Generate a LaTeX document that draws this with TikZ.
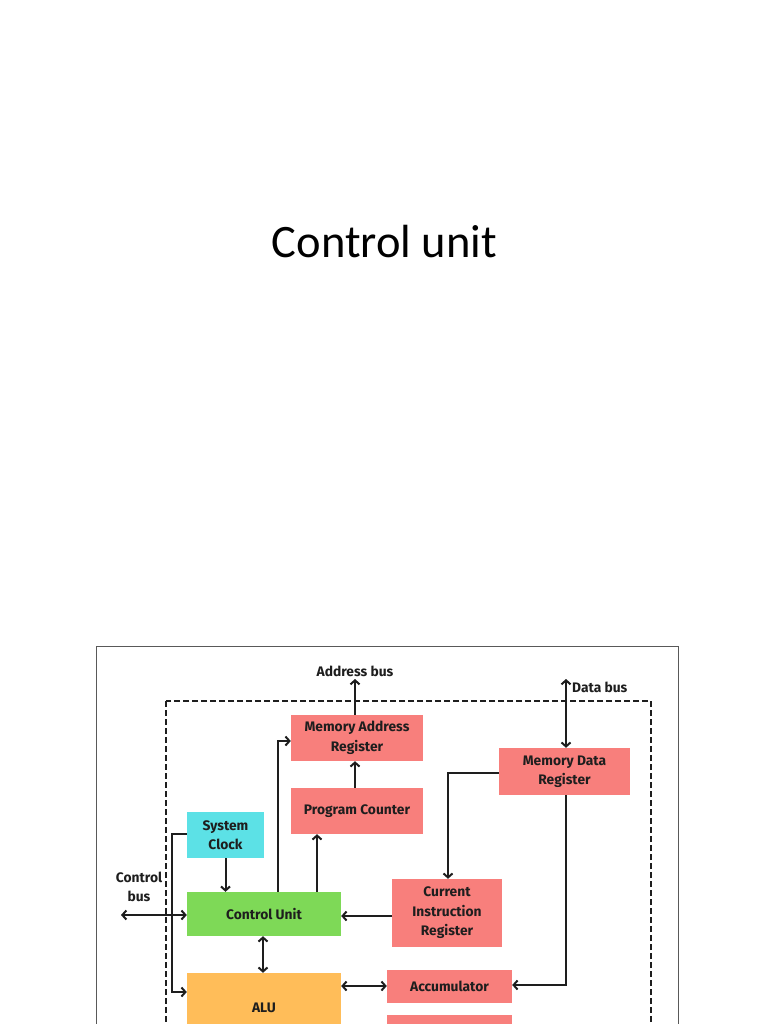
\documentclass[tikz,border=0pt]{standalone}
\usepackage{fontspec}
\setmainfont{Carlito}
\newfontfamily\lab{Fira Sans}
\usetikzlibrary{arrows.meta}
\definecolor{reg}{HTML}{F87F7C}
\definecolor{cugreen}{HTML}{7ED957}
\definecolor{clk}{HTML}{5CE1E6}
\definecolor{alu}{HTML}{FFBD59}
\definecolor{ink}{HTML}{1E1E1E}
\tikzset{
  box/.style={draw=none, inner sep=0pt, align=center, text=ink,
    font=\lab\bfseries\fontsize{13.8}{19.5}\selectfont},
  lbl/.style={inner sep=0pt, text=ink, align=center,
    font=\lab\bfseries\fontsize{13.8}{19}\selectfont},
  wire/.style={line width=2pt, draw=ink},
  tip/.style={},
  arr/.style={wire, -{Straight Barb[length=4pt,width=9pt,line width=2pt]}},
  darr/.style={wire, {Straight Barb[length=4pt,width=9pt,line width=2pt]}-{Straight Barb[length=4pt,width=9pt,line width=2pt]}}
}
\begin{document}
\begin{tikzpicture}[x=1pt,y=-1pt]
\useasboundingbox (0,0) rectangle (768,1024);
\clip (0,0) rectangle (768,1024);
\fill[white] (0,0) rectangle (768,1024);
% title
\node[font=\fontsize{46.5}{52}\selectfont, text=black] (title) at (384.5,242) {Control unit};
% outer frame
\draw[gray!70!black, line width=0.9pt] (96,646) rectangle (678,1040);
% dashed boundary
\draw[ink, line width=1.7pt, dash pattern=on 6pt off 3pt] (166,701) rectangle (651,1060);
% boxes
\node[box, fill=reg, minimum width=132pt, minimum height=46pt] (MAR) at (357,738) {Memory Address\\Register};
\node[box, fill=reg, minimum width=132pt, minimum height=46pt] (PC) at (357,811) {Program Counter};
\node[box, fill=reg, minimum width=131pt, minimum height=47pt] (MDR) at (564.5,771.5) {Memory Data\\Register};
\node[box, fill=reg, minimum width=110pt, minimum height=68pt] (CIR) at (447,913) {Current\\Instruction\\Register};
\node[box, fill=reg, minimum width=125pt, minimum height=33pt] (ACC) at (449.5,986.5) {Accumulator};
\node[box, fill=reg, minimum width=125pt, minimum height=35pt] (R2) at (449.5,1032.5) {};
\node[box, fill=clk, minimum width=77pt, minimum height=46pt] (CLK) at (225.5,835) {System\\Clock};
\node[box, fill=cugreen, minimum width=154pt, minimum height=44pt] (CU) at (264,914) {Control Unit};
\node[box, fill=alu, minimum width=154pt, minimum height=70pt] (ALU) at (264,1008) {ALU};
% labels
\node[lbl] (abus) at (355,671) {Address bus};
\node[lbl, anchor=west] (dbus) at (572,687) {Data bus};
\node[lbl] (cbus) at (139,887) {Control\\bus};
% coordinates
\coordinate (abusend) at (355,679);
\coordinate (dbusend) at (566,679);
\coordinate (cbusend) at (121,915);
\coordinate (a1) at (278,741);
\coordinate (a2) at (317,0);
\coordinate (m1) at (448,773);
\coordinate (m2) at (566,985);
\coordinate (k1) at (172,834);
\coordinate (k2) at (172,992);
\coordinate (c1) at (0,916);
% connectors
\draw[arr] (MAR.north -| abusend) -- (abusend);
\draw[darr] (dbusend) -- (MDR.north -| dbusend);
\draw[arr] (PC.north -| abusend) -- (MAR.south -| abusend);
\draw[arr] (MDR.west |- m1) -- (m1) -- (CIR.north -| m1);
\draw[arr] (MDR.south -| m2) -- (m2) -- (ACC.east |- m2);
\draw[arr] (CIR.west |- c1) -- (CU.east |- c1);
\draw[arr] (CU.north -| a1) -- (a1) -- (MAR.west |- a1);
\draw[arr] (CU.north -| a2) -- (PC.south -| a2);
\draw[arr] (CLK.south) -- (CU.north -| CLK.south);
\draw[darr] (CU.south -| 263,0) -- (ALU.north -| 263,0);
\draw[darr] (ALU.east |- 0,986) -- (ACC.west |- 0,986);
\draw[darr] (cbusend) -- (CU.west |- cbusend);
\draw[arr] (CLK.west |- k1) -- (k1) -- (k2) -- (ALU.west |- k2);
\end{tikzpicture}
\end{document}
